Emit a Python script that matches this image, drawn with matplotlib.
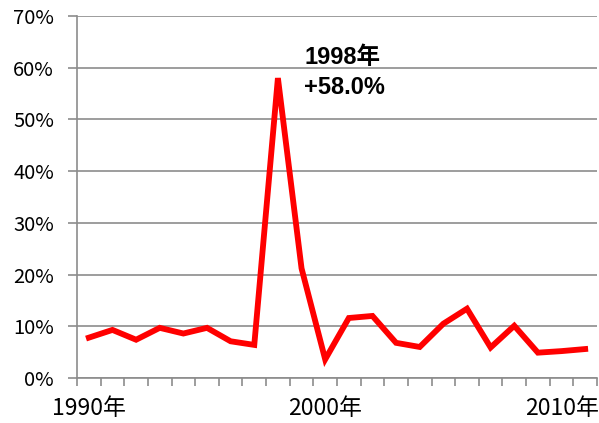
import matplotlib
matplotlib.use('Agg')
import matplotlib.pyplot as plt
import numpy as np

plt.rcParams['font.family'] = ['Noto Sans CJK JP', 'DejaVu Sans']

years = list(range(1990, 2012))
growth = [7.8, 9.3, 7.4, 9.7, 8.6, 9.7, 7.1, 6.4, 58.0, 21.2, 3.6,
          11.6, 12.0, 6.8, 6.0, 10.5, 13.4, 5.9, 10.1, 4.9, 5.2, 5.6]
tick_years = [1990, 2000, 2010]
peak_label = '1998年\n+58.0%'

fig = plt.figure(figsize=(5.99, 4.23), dpi=100)
ax = fig.add_axes([77/599, 45/423, 520/599, 362/423])

x = np.arange(len(years))
ax.plot(x, growth, color='#ff0000', lw=4.2, solid_joinstyle='miter', zorder=3)

ax.set_xlim(-0.5, len(years) - 0.5)
ax.set_ylim(0, 70)
ax.set_yticks(range(0, 71, 10))
ax.set_yticklabels([f'{v}%' for v in range(0, 71, 10)], fontsize=14.5)
ax.yaxis.grid(True, color='#8c8c8c', lw=1.2)
ax.set_axisbelow(True)

ax.set_xticks([years.index(y) for y in tick_years])
ax.set_xticklabels([f'{y}年' for y in tick_years], fontsize=16.5)
ax.set_xticks(np.arange(-0.5, len(years), 1), minor=True)
ax.tick_params(axis='x', which='major', length=0, pad=14)
ax.tick_params(axis='x', which='minor', length=6, width=1.2, color='#8c8c8c')
ax.tick_params(axis='y', length=6.5, width=1.2, color='#8c8c8c', pad=10)

for s in ['top', 'right']:
    ax.spines[s].set_visible(False)
for s in ['left', 'bottom']:
    ax.spines[s].set_color('#8c8c8c')
    ax.spines[s].set_linewidth(1.2)

ax.text(9.12, 64.2, peak_label, fontsize=17, fontweight='bold',
        family=['Liberation Sans', 'Noto Sans CJK JP'],
        va='top', ha='left', linespacing=1.38)

fig.savefig('out.png', dpi=100)
